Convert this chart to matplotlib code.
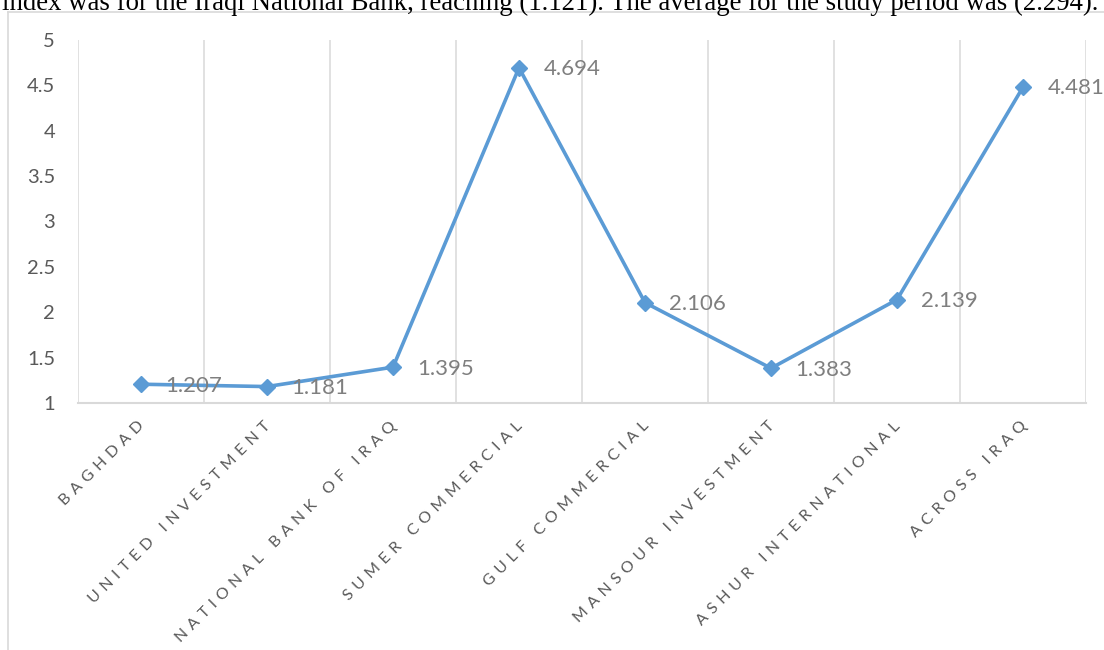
import matplotlib.pyplot as plt
from matplotlib.lines import Line2D

banks = ['BAGHDAD', 'UNITED INVESTMENT', 'NATIONAL BANK OF IRAQ', 'SUMER COMMERCIAL',
         'GULF COMMERCIAL', 'MANSOUR INVESTMENT', 'ASHUR INTERNATIONAL', 'ACROSS IRAQ']
values = [1.207, 1.181, 1.395, 4.694, 2.106, 1.383, 2.139, 4.481]
yticks = [1, 1.5, 2, 2.5, 3, 3.5, 4, 4.5, 5]
ytick_labels = ['1', '1.5', '2', '2.5', '3', '3.5', '4', '4.5', '5']
caption = ('index was for the Iraqi National Bank, reaching (1.121). '
           'The average for the study period was (2.294).')

plt.rcParams['font.family'] = ['Lato', 'DejaVu Sans']

W, H = 1104, 650
fig = plt.figure(figsize=(W / 100, H / 100), dpi=100)

# cut-off line of document text above the chart
fig.text(2 / W, 1 - 10 / H, caption, fontsize=19.3, family='Liberation Serif',
         color='black', va='baseline', ha='left')

# chart frame
fig.add_artist(Line2D([8 / W, 8 / W], [0, 1 - 11.5 / H], color='#d9d9d9', lw=1.2))
fig.add_artist(Line2D([8 / W, 1], [1 - 11.5 / H, 1 - 11.5 / H], color='#d9d9d9', lw=1.2))

left, right, top, bottom = 78, 1086, 40, 403
ax = fig.add_axes([left / W, 1 - bottom / H, (right - left) / W, (bottom - top) / H])

x = list(range(len(banks)))
ax.plot(x, values, color='#5b9bd5', lw=2.6, marker='D', ms=8, zorder=3)
for xi, v in zip(x, values):
    ax.annotate(f'{v:.3f}', (xi, v), xytext=(17.5, -1), textcoords='offset points',
                va='center', ha='left', fontsize=16, color='#7f7f7f', zorder=4)

ax.set_xlim(-0.5, len(banks) - 0.5)
ax.set_ylim(1, 5)
for b in range(len(banks) + 1):
    ax.axvline(b - 0.5, color='#d9d9d9', lw=1.1, zorder=1)

ax.set_yticks(yticks)
ax.set_yticklabels(ytick_labels, fontsize=14.5, color='#595959')
ax.tick_params(axis='y', length=0, pad=16.5)

ax.set_xticks(x)
ax.set_xticklabels([])
ax.tick_params(axis='x', length=0)
for xi, name in zip(x, banks):
    spaced = '\u2004'.join(name)
    ax.annotate(spaced, (xi, 1), xytext=(1, -15), textcoords='offset points',
                rotation=45, rotation_mode='anchor', ha='right', va='center',
                fontsize=11.5, color='#595959', annotation_clip=False)

for s in ['left', 'right', 'top']:
    ax.spines[s].set_visible(False)
ax.spines['bottom'].set_color('#d9d9d9')
ax.spines['bottom'].set_linewidth(1.5)

fig.savefig('out.png', dpi=100)
